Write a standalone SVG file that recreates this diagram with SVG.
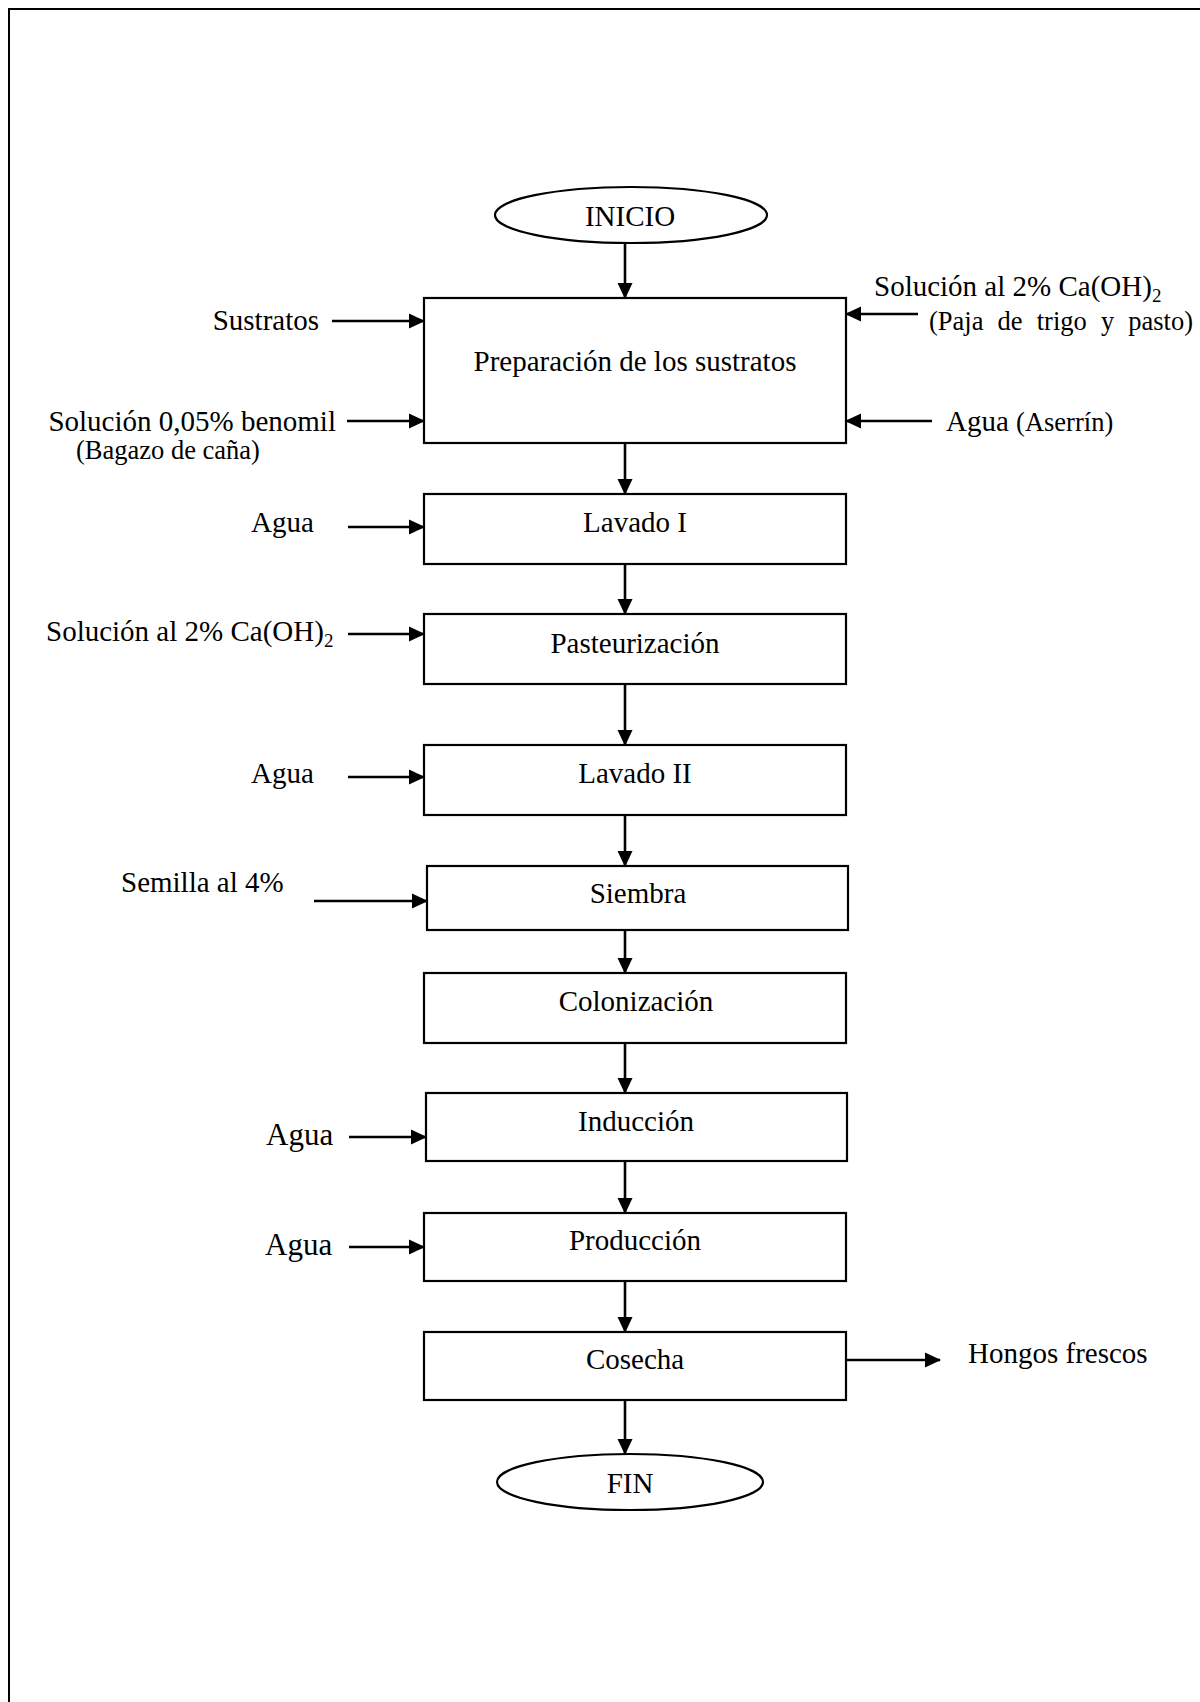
<svg xmlns="http://www.w3.org/2000/svg" width="1200" height="1702" viewBox="0 0 1200 1702">
<style>
text{font-family:"Liberation Serif","Times New Roman",serif;font-size:29px;fill:#000}
.sm{font-size:26.5px}
.big{font-size:31px}
.c{text-anchor:middle}
.e{text-anchor:end}
.box{fill:#fff;stroke:#000;stroke-width:2.2}
.ln{stroke:#000;stroke-width:2;fill:none}
.arr{stroke:#000;stroke-width:2.6;fill:none;marker-end:url(#ah)}
</style>
<defs>
<marker id="ah" markerUnits="userSpaceOnUse" markerWidth="16" markerHeight="16" refX="15" refY="8" orient="auto">
<path d="M0,0.5 L16,8 L0,15.5 Z" fill="#000"/>
</marker>
</defs>
<rect width="1200" height="1702" fill="#fff"/>
<g id="frame">
<line class="ln" x1="8" y1="9" x2="1200" y2="9" stroke-width="2.5"/>
<line class="ln" x1="9" y1="8" x2="9" y2="1702" stroke-width="2.5"/>
</g>
<g id="connectors">
<line class="arr" x1="625" y1="243" x2="625" y2="298"/>
<line class="arr" x1="625" y1="443" x2="625" y2="494"/>
<line class="arr" x1="625" y1="564" x2="625" y2="614"/>
<line class="arr" x1="625" y1="684" x2="625" y2="745"/>
<line class="arr" x1="625" y1="815" x2="625" y2="866"/>
<line class="arr" x1="625" y1="922" x2="625" y2="973"/>
<line class="arr" x1="625" y1="1043" x2="625" y2="1093"/>
<line class="arr" x1="625" y1="1161" x2="625" y2="1213"/>
<line class="arr" x1="625" y1="1281" x2="625" y2="1332"/>
<line class="arr" x1="625" y1="1400" x2="625" y2="1454"/>
<line class="arr" x1="332" y1="321" x2="424" y2="321"/>
<line class="arr" x1="347" y1="421" x2="424" y2="421"/>
<line class="arr" x1="918" y1="314" x2="846" y2="314"/>
<line class="arr" x1="932" y1="421" x2="846" y2="421"/>
<line class="arr" x1="348" y1="527" x2="424" y2="527"/>
<line class="arr" x1="348" y1="634" x2="424" y2="634"/>
<line class="arr" x1="348" y1="777" x2="424" y2="777"/>
<line class="arr" x1="314" y1="901" x2="427" y2="901"/>
<line class="arr" x1="349" y1="1137" x2="426" y2="1137"/>
<line class="arr" x1="349" y1="1247" x2="424" y2="1247"/>
<line class="arr" x1="846" y1="1360" x2="940" y2="1360"/>
</g>
<g id="inicio">
<ellipse class="box" cx="631" cy="215" rx="136" ry="28"/>
<text class="c" x="630" y="226">INICIO</text>
</g>
<g id="preparacion">
<rect class="box" x="424" y="298" width="422" height="145"/>
<text class="c" x="635" y="371">Preparación de los sustratos</text>
</g>
<g id="lavado1">
<rect class="box" x="424" y="494" width="422" height="70"/>
<text class="c" x="635" y="532">Lavado I</text>
</g>
<g id="pasteurizacion">
<rect class="box" x="424" y="614" width="422" height="70"/>
<text class="c" x="635" y="653">Pasteurización</text>
</g>
<g id="lavado2">
<rect class="box" x="424" y="745" width="422" height="70"/>
<text class="c" x="635" y="783">Lavado II</text>
</g>
<g id="siembra">
<rect class="box" x="427" y="866" width="421" height="64"/>
<text class="c" x="638" y="903">Siembra</text>
</g>
<g id="colonizacion">
<rect class="box" x="424" y="973" width="422" height="70"/>
<text class="c" x="636" y="1011">Colonización</text>
</g>
<g id="induccion">
<rect class="box" x="426" y="1093" width="421" height="68"/>
<text class="c" x="636" y="1131">Inducción</text>
</g>
<g id="produccion">
<rect class="box" x="424" y="1213" width="422" height="68"/>
<text class="c" x="635" y="1250">Producción</text>
</g>
<g id="cosecha">
<rect class="box" x="424" y="1332" width="422" height="68"/>
<text class="c" x="635" y="1369">Cosecha</text>
</g>
<g id="fin">
<ellipse class="box" cx="630" cy="1482" rx="133" ry="28"/>
<text class="c" x="630" y="1493">FIN</text>
</g>
<g id="labels">
<text class="e" x="319" y="330">Sustratos</text>
<text class="e" x="336" y="431">Solución 0,05% benomil</text>
<text class="sm" x="76" y="459">(Bagazo de caña)</text>
<text x="874" y="296">Solución al 2% Ca(OH)<tspan font-size="19" dy="6">2</tspan></text>
<text class="sm" x="929" y="330" word-spacing="7.5">(Paja de trigo y pasto)</text>
<text x="946" y="431">Agua <tspan class="sm">(Aserrín)</tspan></text>
<text x="251" y="532">Agua</text>
<text x="46" y="641">Solución al 2% Ca(OH)<tspan font-size="19" dy="6">2</tspan></text>
<text x="251" y="783">Agua</text>
<text x="121" y="892">Semilla al 4%</text>
<text class="big" x="266" y="1145">Agua</text>
<text class="big" x="265" y="1255">Agua</text>
<text x="968" y="1363">Hongos frescos</text>
</g>
</svg>
